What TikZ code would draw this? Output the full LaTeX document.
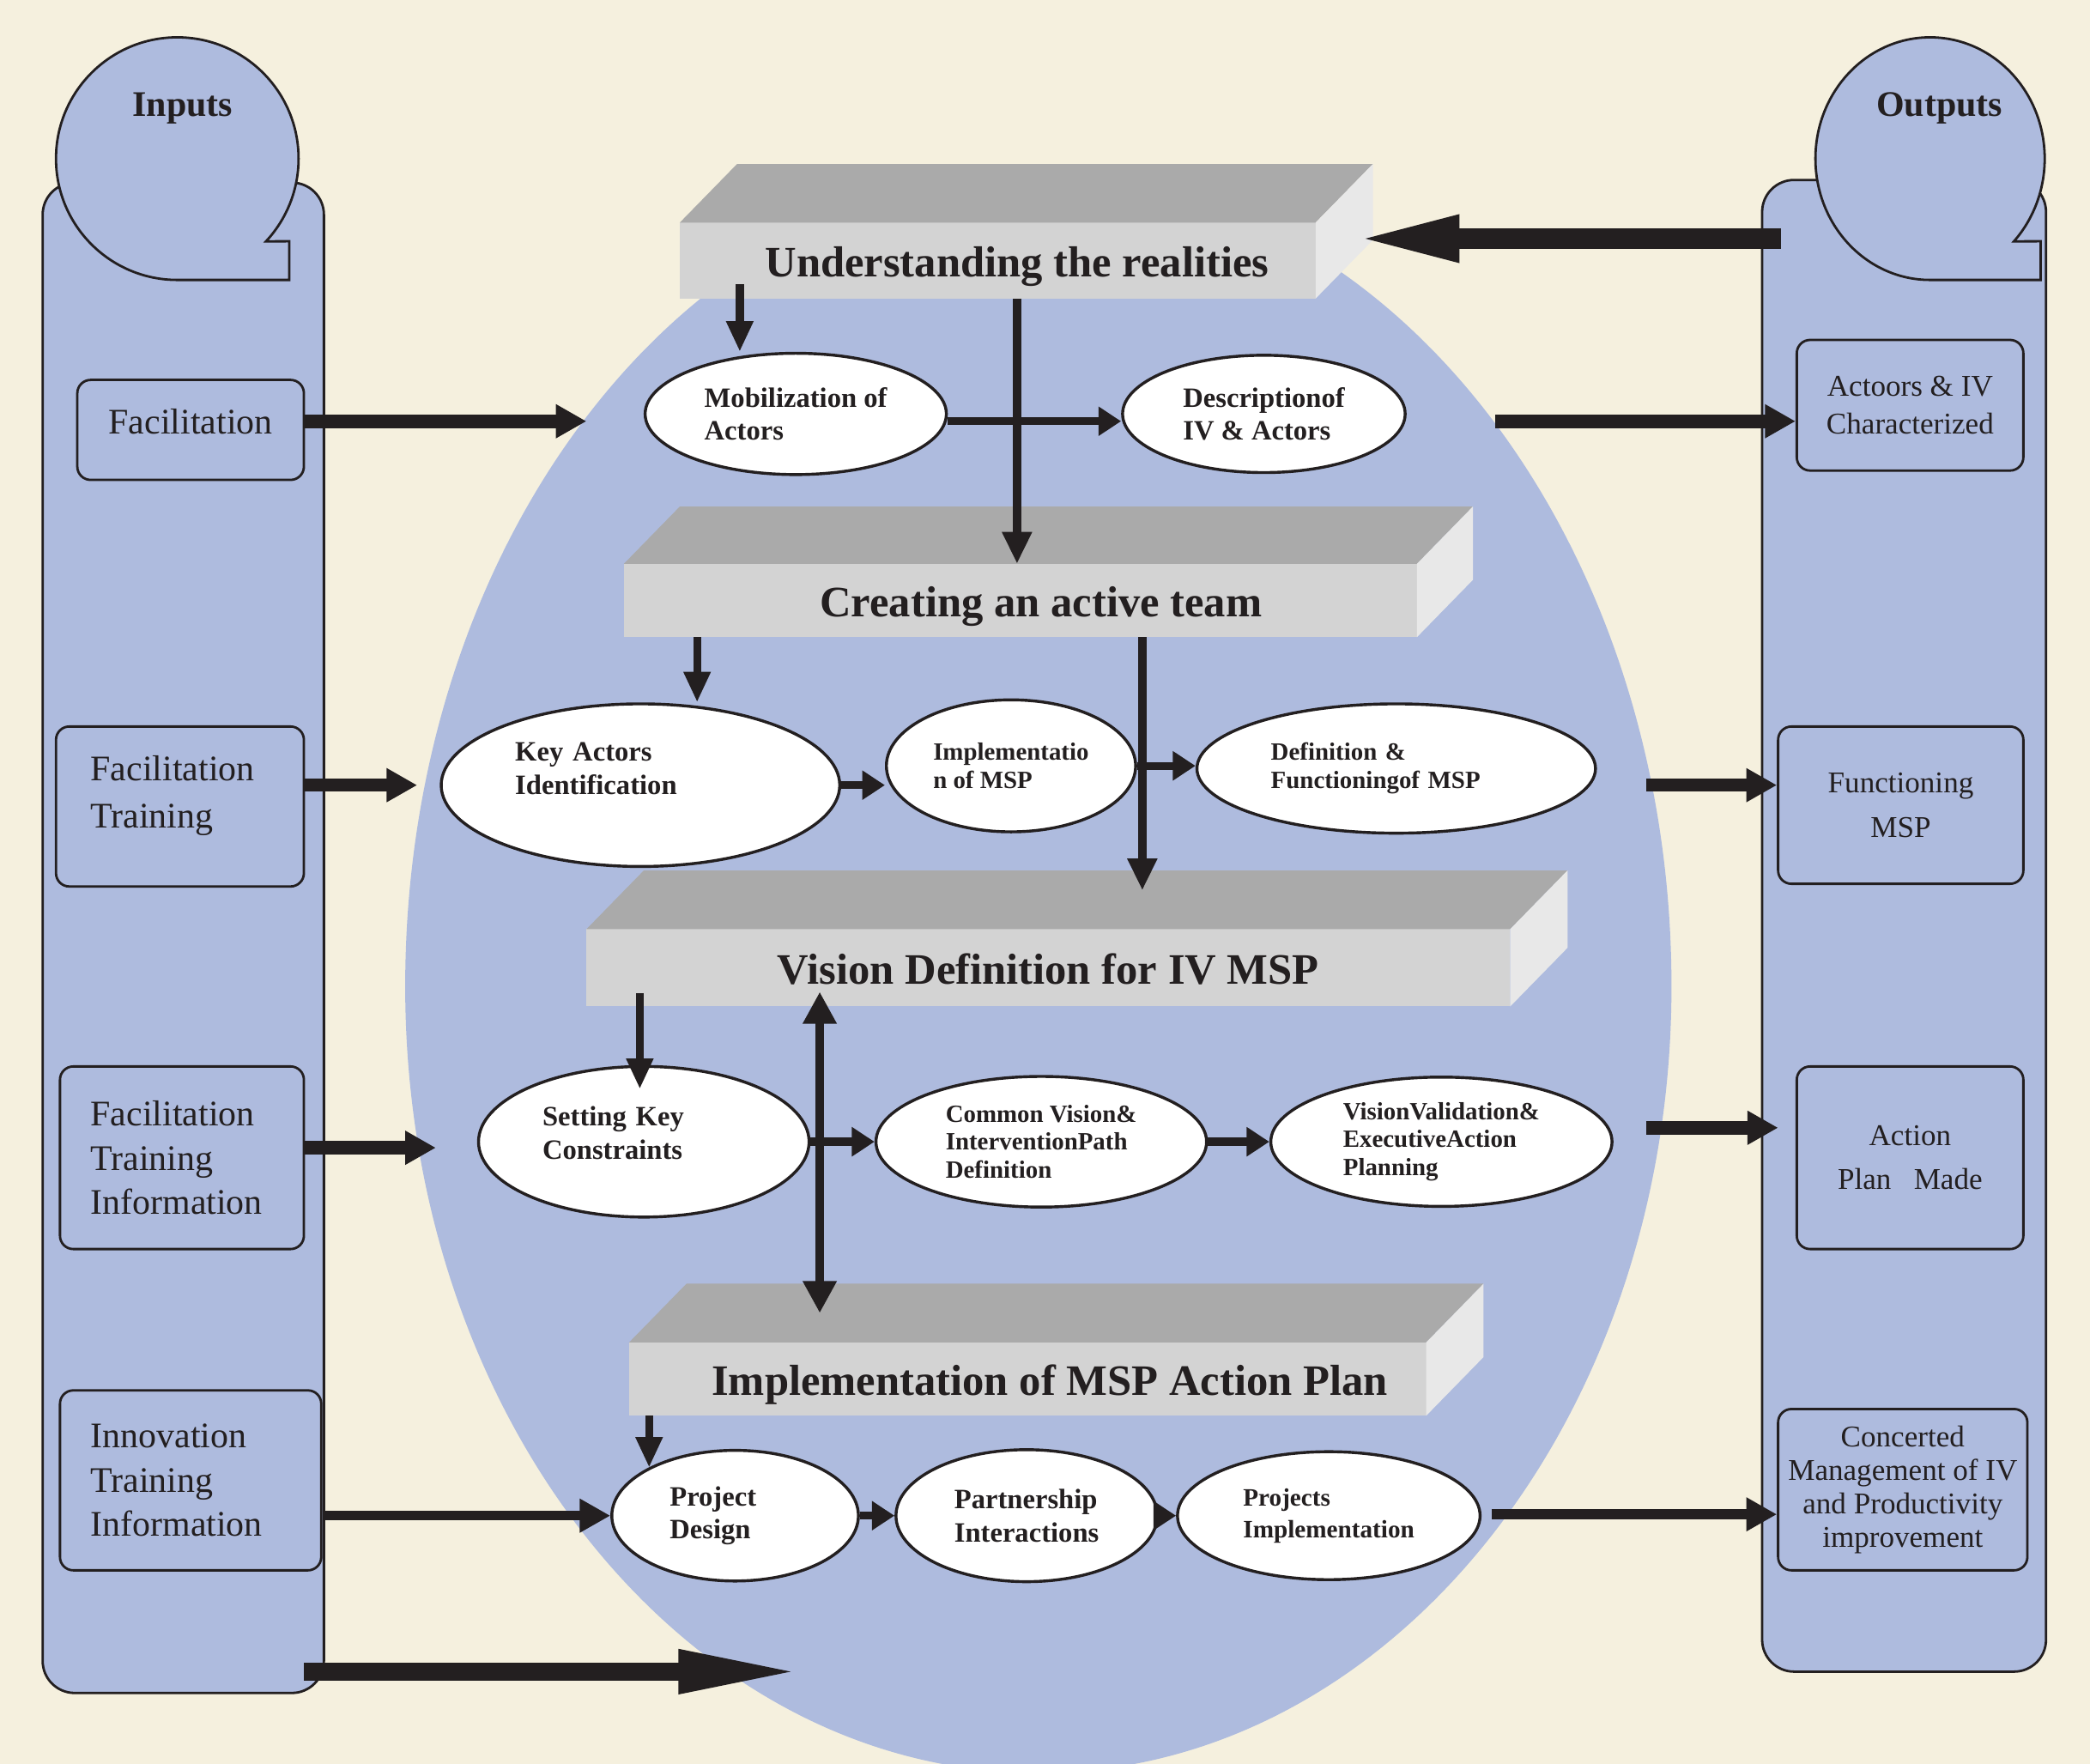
\documentclass[tikz,border=0pt]{standalone}
\usepackage{fontspec}
\setmainfont{Liberation Serif}
\usepackage{tikz}
\usetikzlibrary{shapes.geometric,arrows.meta,positioning}
\definecolor{cream}{RGB}{245,240,222}
\definecolor{blob}{RGB}{174,187,222}
\definecolor{ink}{RGB}{35,31,32}
\definecolor{topgray}{RGB}{170,170,170}
\definecolor{frontgray}{RGB}{211,211,211}
\definecolor{sidegray}{RGB}{232,232,232}

\begin{document}
\begin{tikzpicture}
[x=0.5pt,y=-0.5pt,
slab/.style={fill=frontgray,inner sep=0pt,outer sep=0pt,text height=12pt,text depth=0pt,text=ink,font=\fontsize{16.3}{19}\selectfont\bfseries},
ell/.style={ellipse,draw=ink,fill=white,line width=1.1pt,inner sep=0pt,align=left,text=ink},
bigell/.style={ell,font=\fontsize{10.5}{12.5}\selectfont\bfseries},
smallell/.style={ell,font=\fontsize{9.3}{10.5}\selectfont\bfseries},
inbox/.style={draw=ink,fill=blob,line width=0.9pt,rounded corners=5pt,inner sep=0pt,align=left,text=ink,font=\fontsize{13.5}{16.5}\selectfont},
outbox/.style={draw=ink,fill=blob,line width=0.9pt,rounded corners=5pt,inner sep=0pt,align=center,text=ink,font=\fontsize{11.3}{14}\selectfont},
column/.style={draw=ink,fill=blob,line width=0.9pt,rounded corners=12pt,inner sep=0pt},
bubble/.style={draw=ink,fill=blob,line width=0.9pt},
hdr/.style={text=ink,font=\fontsize{13.5}{16}\selectfont\bfseries},
ioarr/.style={draw=ink,line width=5pt,-{Triangle[length=11.5pt,width=12pt]}},
dnarr/.style={draw=ink,line width=3pt,-{Triangle[length=11.5pt,width=9.5pt]}},
vlarr/.style={draw=ink,line width=3.3pt,-{Triangle[length=12pt,width=10.5pt]}},
sharr/.style={draw=ink,line width=3pt,-{Triangle[length=8.5pt,width=10.5pt]}}]
\useasboundingbox (0,0) rectangle (1568,1323);
\clip (0,0) rectangle (1568,1323);
\fill[cream] (0,0) rectangle (1568,1323);
\fill[blob] (304,740) arc[start angle=180,end angle=360,x radius=475,y radius=610] arc[start angle=0,end angle=180,x radius=475,y radius=590] -- cycle;

\node[column,minimum width=105.5pt,minimum height=566.5pt] (incol) at (137.5,703.5) {};
\node[column,minimum width=106.5pt,minimum height=559.5pt] (outcol) at (1428.5,694.5) {};
\draw[bubble] (133,210) arc[start angle=90,end angle=403,x radius=91,y radius=91] -- (217,181) -- (217,210) -- cycle;
\draw[bubble] (1448,210) arc[start angle=90,end angle=403,x radius=86,y radius=91] -- (1531,181) -- (1531,210) -- cycle;
\node[hdr] (inlbl) at (137,81) {Inputs};
\node[hdr] (outlbl) at (1455,81) {Outputs};

\node[inbox,minimum width=85pt,minimum height=37.5pt] (fac) at (143,322.5) {Facilitation\\[-10pt]\mbox{}};
\node[inbox,minimum width=93pt,minimum height=60pt,text width=67pt,font=\fontsize{13.5}{18}\selectfont] (ft) at (135,605) {Facilitation\\Training\\[-7pt]\mbox{}};
\node[inbox,minimum width=91.5pt,minimum height=68.5pt,text width=68.5pt] (fti) at (136.5,868.5) {Facilitation\\Training\\Information};
\node[inbox,minimum width=98pt,minimum height=67.5pt,text width=75pt] (iti) at (143,1110.5) {Innovation\\Training\\Information};

\node[outbox,minimum width=85pt,minimum height=49pt] (act) at (1433,304) {Actoors \& IV\\Characterized};
\node[outbox,minimum width=92pt,minimum height=59pt,font=\fontsize{11.3}{16.5}\selectfont] (fun) at (1426,604) {Functioning\\MSP};
\node[outbox,minimum width=85pt,minimum height=68.5pt,font=\fontsize{11.3}{16.5}\selectfont] (apm) at (1433,868.5) {Action\\Plan~~~Made};
\node[outbox,minimum width=93.5pt,minimum height=60.5pt,font=\fontsize{11.3}{12.5}\selectfont] (conc) at (1427.5,1117.5) {Concerted\\Management of IV\\and Productivity\\improvement};

\node[slab,minimum width=238.5pt,minimum height=28.5pt] (real) at (748.5,195.5) {\hspace*{14.5pt}Understanding the realities};
\fill[topgray] (real.north west) -- ++(43,-44) -- ([shift={(43,-44)}]real.north east) -- (real.north east) -- cycle;
\fill[sidegray] (real.north east) -- ++(43,-44) -- ([shift={(43,-44)}]real.south east) -- (real.south east) -- cycle;
\node[slab,minimum width=297.5pt,minimum height=27.5pt] (team) at (765.5,450.5) {\hspace*{15.5pt}Creating an active team};
\fill[topgray] (team.north west) -- ++(42,-43) -- ([shift={(42,-43)}]team.north east) -- (team.north east) -- cycle;
\fill[sidegray] (team.north east) -- ++(42,-43) -- ([shift={(42,-43)}]team.south east) -- (team.south east) -- cycle;
\node[slab,minimum width=346.5pt,minimum height=29pt] (vis) at (786.5,726) {Vision Definition for IV MSP};
\fill[topgray] (vis.north west) -- ++(43,-44) -- ([shift={(43,-44)}]vis.north east) -- (vis.north east) -- cycle;
\fill[sidegray] (vis.north east) -- ++(43,-44) -- ([shift={(43,-44)}]vis.south east) -- (vis.south east) -- cycle;
\node[slab,minimum width=299pt,minimum height=27.5pt] (impl) at (771,1034.5) {\hspace*{16.5pt}Implementation of MSP Action Plan};
\fill[topgray] (impl.north west) -- ++(43,-44) -- ([shift={(43,-44)}]impl.north east) -- (impl.north east) -- cycle;
\fill[sidegray] (impl.north east) -- ++(43,-44) -- ([shift={(43,-44)}]impl.south east) -- (impl.south east) -- cycle;

\node[bigell,minimum width=113pt,minimum height=45.5pt] (mob) at (597,310.5) {Mobilization of\\Actors};
\node[bigell,minimum width=106pt,minimum height=44pt,right=65pt of mob] (desc) {Descriptionof\\IV \& Actors};
\node[bigell,minimum width=149.5pt,minimum height=61pt,text width=94pt] (key) at (480.5,589) {Key Actors\\Identification\\\mbox{}};
\node[smallell,minimum width=93.5pt,minimum height=49.5pt] (imp) at (758.5,574.5) {Implementatio\\n of MSP};
\node[smallell,minimum width=149.5pt,minimum height=48.5pt,text width=94pt] (defn) at (1047.5,576.5) {Definition \&\\Functioningof MSP};
\node[bigell,minimum width=124pt,minimum height=56.5pt,text width=76pt] (setk) at (483,856.5) {Setting Key\\Constraints\\[-6pt]\mbox{}};
\node[smallell,minimum width=124pt,minimum height=49pt,right=24pt of setk] (comv) {Common Vision\&\\InterventionPath\\Definition};
\node[smallell,minimum width=128pt,minimum height=48.5pt,right=23pt of comv] (valid) {VisionValidation\&\\ExecutiveAction\\Planning};
\node[bigell,minimum width=92.5pt,minimum height=49pt,text width=49pt] (pdes) at (551.5,1137) {Project\\Design};
\node[bigell,minimum width=98pt,minimum height=49.5pt,right=13pt of pdes] (part) {Partnership\\Interactions};
\node[smallell,minimum width=113.5pt,minimum height=48pt,right=6.5pt of part,font=\fontsize{9.4}{12}\selectfont\bfseries] (pimp) {Projects\\Implementation};

\coordinate (t1) at (440,316);
\coordinate (s3) at (1122,316);
\coordinate (s4) at (1336,179);
\coordinate (t4) at (1013,179);
\coordinate (s5) at (555,213);
\coordinate (s6) at (763,224);
\coordinate (s7) at (523,478);
\coordinate (s10) at (857,478);
\coordinate (t10) at (857,668);
\coordinate (s11) at (480,745);
\coordinate (t11) at (480,817);
\coordinate (s12) at (615,744);
\coordinate (t12) at (615,985);
\coordinate (t15) at (313,589);
\coordinate (t16) at (327,861);
\coordinate (s17) at (487,1062);
\coordinate (t17) at (487,1101);
\coordinate (s21) at (1119,1136);
\coordinate (s22) at (1235,589);
\coordinate (s23) at (1235,846);
\coordinate (t23) at (1334,846);
\coordinate (s24) at (228,1254);
\coordinate (t24) at (601,1254);

\draw[ioarr] (fac.east |- t1) -- (t1);
\draw[sharr] (mob.east |- t1) -- (desc.west |- t1);
\draw[ioarr] (s3) -- (act.west |- s3);
\draw[draw=ink,line width=8pt,-{Triangle[length=41pt,width=15.5pt]}] (s4) -- (t4);
\draw[dnarr] (s5) -- (s5 |- mob.north);
\draw[vlarr] (s6) -- (s6 |- team.north);
\draw[dnarr] (s7) -- (s7 |- key.north);
\draw[sharr] (key.east) -- (key.east -| imp.west);
\draw[sharr] (imp.east) -- (imp.east -| defn.west);
\draw[vlarr] (s10) -- (t10);
\draw[dnarr] (s11) -- (t11);
\draw[vlarr,{Triangle[length=12pt,width=12pt]}-{Triangle[length=12pt,width=12pt]}] (s12) -- (t12);
\draw[sharr] (setk.east) -- (setk.east -| comv.west);
\draw[sharr] (comv.east) -- (comv.east -| valid.west);
\draw[ioarr] (ft.east |- t15) -- (t15);
\draw[ioarr] (fti.east |- t16) -- (t16);
\draw[dnarr] (s17) -- (t17);
\draw[ioarr,line width=3.5pt] (iti.east |- pdes.west) -- (pdes.west);
\draw[sharr] (pdes.east) -- (pdes.east -| part.west);
\draw[sharr] (part.east) -- (part.east -| pimp.west);
\draw[ioarr,line width=4pt] (s21) -- (conc.west |- s21);
\draw[ioarr] (s22) -- (fun.west |- s22);
\draw[ioarr] (s23) -- (t23);
\draw[draw=ink,line width=6.5pt,-{Triangle[length=46pt,width=15pt]}] (s24) -- (t24);
\end{tikzpicture}
\end{document}
